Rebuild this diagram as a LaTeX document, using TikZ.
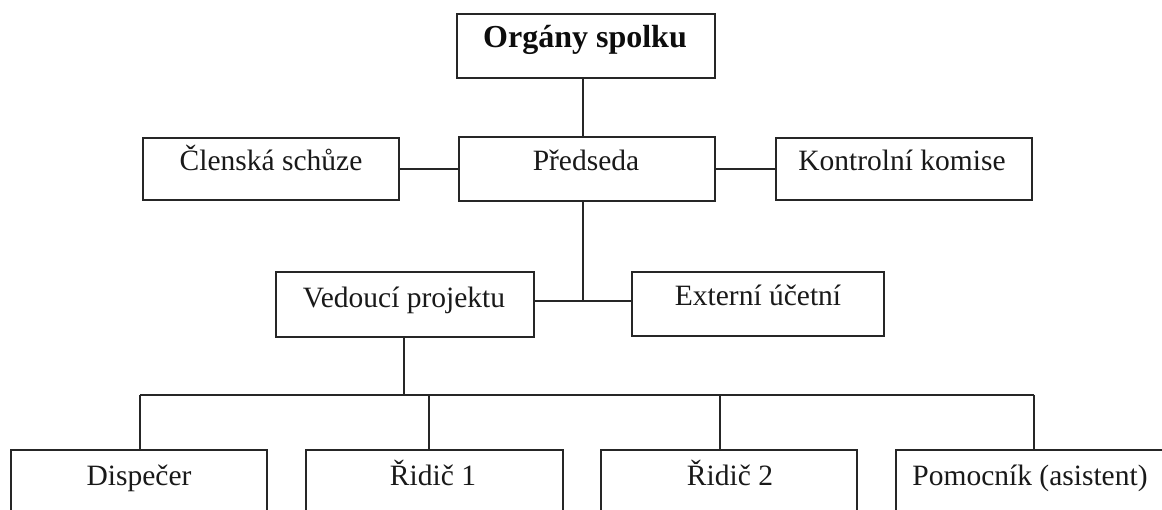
\documentclass[tikz,border=0pt]{standalone}
\usepackage{fontspec}
\setmainfont{Liberation Serif}
\begin{document}
\begin{tikzpicture}[x=1pt,y=-1pt,
  box/.style={draw=black!85,line width=1.3pt,fill=white,inner sep=0pt,rectangle},
  lbl/.style={anchor=base,inner sep=0pt,font=\fontsize{29.5}{35}\selectfont,text=black!90},
  lblb/.style={anchor=base,inner sep=0pt,font=\fontsize{32}{38}\selectfont\bfseries,text=black!95},
  conn/.style={draw=black!85,line width=1.3pt}]
\useasboundingbox (0,0) rectangle (1162,510);
\clip (0,0) rectangle (1162,510);
\fill[white] (0,0) rectangle (1162,510);
% boxes
\node[box,minimum width=258,minimum height=64] (org) at (586,46) {};
\node[box,minimum width=256,minimum height=64] (pred) at (587,169) {};
\node[box,minimum width=256,minimum height=62] (clen) at (271,169) {};
\node[box,minimum width=256,minimum height=62] (kont) at (904,169) {};
\node[box,minimum width=258,minimum height=65] (vedo) at (405,304.5) {};
\node[box,minimum width=252,minimum height=64] (ext) at (758,304) {};
\node[box,minimum width=256,minimum height=90] (disp) at (139,495) {};
\node[box,minimum width=257,minimum height=90] (rid1) at (434.5,495) {};
\node[box,minimum width=256,minimum height=90] (rid2) at (729,495) {};
\node[box,minimum width=270,minimum height=90] (pomo) at (1031,495) {};
% texts
\node[lblb] (torg) at (585,48) {Orgány spolku};
\node[lbl] (tpred) at (586,171) {Předseda};
\node[lbl] (tclen) at (271,171) {Členská schůze};
\node[lbl] (tkont) at (902,171) {Kontrolní komise};
\node[lbl] (tvedo) at (404,308) {Vedoucí projektu};
\node[lbl] (text) at (758,306) {Externí účetní};
\node[lbl] (tdisp) at (139,485) {Dispečer};
\node[lbl] (trid1) at (433,485) {Řidič 1};
\node[lbl] (trid2) at (730,485) {Řidič 2};
\node[lbl] (tpomo) at (1030,485) {Pomocník (asistent)};
% connectors
\coordinate (jv) at (583,301);
\coordinate (b0) at (404,395);
\coordinate (b1) at (140,395);
\coordinate (b2) at (429,395);
\coordinate (b3) at (720,395);
\coordinate (b4) at (1034,395);
\draw[conn] (org.south -| jv) -- (pred.north -| jv);
\draw[conn] (clen.east) -- (pred.west);
\draw[conn] (pred.east) -- (kont.west);
\draw[conn] (pred.south -| jv) -- (jv);
\draw[conn] (vedo.east |- jv) -- (ext.west |- jv);
\draw[conn] (vedo.south -| b0) -- (b0);
\draw[conn] (b1) -- (b4);
\draw[conn] (b1) -- (b1 |- disp.north);
\draw[conn] (b2) -- (b2 |- rid1.north);
\draw[conn] (b3) -- (b3 |- rid2.north);
\draw[conn] (b4) -- (b4 |- pomo.north);
\end{tikzpicture}
\end{document}
